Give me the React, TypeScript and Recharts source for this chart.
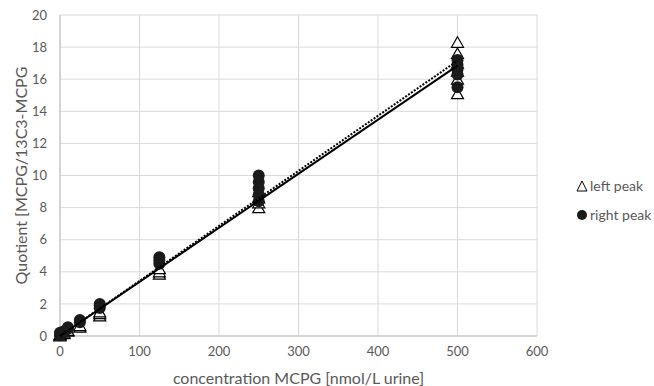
import { ScatterChart, Scatter, XAxis, YAxis, CartesianGrid, Label } from 'recharts';

// concentration MCPG [nmol/L urine] for each measured replicate
const leftPeakX = [0, 0, 0, 5, 5, 10, 10, 25, 25, 50, 50, 50, 125, 125, 125, 250, 250, 250, 250, 500, 500, 500, 500, 500, 500];
const leftPeakY = [0.0, 0.05, 0.1, 0.15, 0.2, 0.3, 0.35, 0.55, 0.65, 1.25, 1.4, 1.5, 3.85, 4.0, 4.2, 8.0, 8.3, 8.6, 9.0, 15.1, 16.0, 16.5, 17.0, 17.6, 18.3];

const rightPeakX = [0, 0, 0, 5, 5, 10, 10, 25, 25, 50, 50, 50, 125, 125, 125, 250, 250, 250, 250, 250, 500, 500, 500, 500, 500];
const rightPeakY = [0.05, 0.1, 0.2, 0.25, 0.3, 0.45, 0.55, 0.85, 1.0, 1.75, 1.9, 2.0, 4.5, 4.7, 4.9, 8.4, 8.8, 9.2, 9.6, 10.0, 15.5, 16.3, 16.6, 16.9, 17.2];

// linear trend lines (start / end)
const trendX = [0, 500];
const trendLeftY = [0.0, 17.15];
const trendRightY = [0.0, 16.85];

const xTicks = [0, 100, 200, 300, 400, 500, 600];
const yTicks = [0, 2, 4, 6, 8, 10, 12, 14, 16, 18, 20];

const toPoints = (xs: number[], ys: number[]) => xs.map((x, i) => ({ x, y: ys[i] }));

const leftData = toPoints(leftPeakX, leftPeakY);
const rightData = toPoints(rightPeakX, rightPeakY);
const trendLeft = toPoints(trendX, trendLeftY);
const trendRight = toPoints(trendX, trendRightY);

const TEXT = '#595959';
const FONT = 'Lato, "Open Sans", sans-serif';

const Triangle = (props: any) => {
  const { cx, cy } = props;
  if (cx == null || cy == null) return <g />;
  return (
    <polygon
      points={`${cx},${cy - 5.5} ${cx + 6},${cy + 5} ${cx - 6},${cy + 5}`}
      fill="#fff"
      stroke="#000"
      strokeWidth={1.2}
    />
  );
};

const Dot = (props: any) => {
  const { cx, cy } = props;
  if (cx == null || cy == null) return <g />;
  return <circle cx={cx} cy={cy} r={6} fill="#1a1a1a" />;
};

const Nothing = () => <g />;

const YTitle = (props: any) => {
  const { viewBox } = props;
  const cy = viewBox.y + viewBox.height / 2;
  return (
    <text
      x={20}
      y={cy}
      transform={`rotate(-90 20 ${cy})`}
      textAnchor="middle"
      dominantBaseline="central"
      fill={TEXT}
      fontSize={16}
      fontFamily={FONT}
    >
      Quotient [MCPG/13C3-MCPG
    </text>
  );
};

export default function App() {
  return (
    <div style={{ position: 'absolute', left: 0, top: 0, width: 654, height: 386, background: '#fff' }}>
      <ScatterChart width={654} height={386} margin={{ top: 15, right: 117, bottom: 0, left: 0 }}>
        <CartesianGrid stroke="#d9d9d9" strokeWidth={1} />
        <XAxis
          type="number"
          dataKey="x"
          domain={[0, 600]}
          ticks={xTicks}
          height={50}
          stroke="#bfbfbf"
          tickLine={false}
          tickMargin={5}
          tick={{ fill: TEXT, fontSize: 13, fontFamily: FONT }}
        >
          <Label
            value="concentration MCPG [nmol/L urine]"
            position="insideBottom"
            offset={2}
            fill={TEXT}
            fontSize={16}
            fontFamily={FONT}
          />
        </XAxis>
        <YAxis
          type="number"
          dataKey="y"
          domain={[0, 20]}
          ticks={yTicks}
          width={60}
          stroke="#bfbfbf"
          tickLine={false}
          tickMargin={7}
          tick={{ fill: TEXT, fontSize: 13, fontFamily: FONT }}
        >
          <Label content={YTitle} />
        </YAxis>
        <Scatter name="left peak" data={leftData} shape={Triangle} isAnimationActive={false} />
        <Scatter name="right peak" data={rightData} shape={Dot} isAnimationActive={false} />
        <Scatter
          data={trendRight}
          shape={Nothing}
          line={{ stroke: '#000', strokeWidth: 2 }}
          isAnimationActive={false}
        />
        <Scatter
          data={trendLeft}
          shape={Nothing}
          line={{ stroke: '#000', strokeWidth: 2, strokeDasharray: '2 1.5' }}
          isAnimationActive={false}
        />
      </ScatterChart>
      <div
        style={{
          position: 'absolute',
          left: 576,
          top: 171,
          fontFamily: FONT,
          fontSize: 14,
          color: TEXT,
          lineHeight: '29px',
          whiteSpace: 'nowrap',
        }}
      >
        <div style={{ display: 'flex', alignItems: 'center' }}>
          <svg width={12} height={12} style={{ marginRight: 2 }}>
            <polygon points="6,1 11,11 1,11" fill="#fff" stroke="#000" strokeWidth={1} />
          </svg>
          left peak
        </div>
        <div style={{ display: 'flex', alignItems: 'center' }}>
          <svg width={12} height={12} style={{ marginRight: 2 }}>
            <circle cx={6} cy={6} r={5} fill="#1a1a1a" />
          </svg>
          right peak
        </div>
      </div>
    </div>
  );
}
